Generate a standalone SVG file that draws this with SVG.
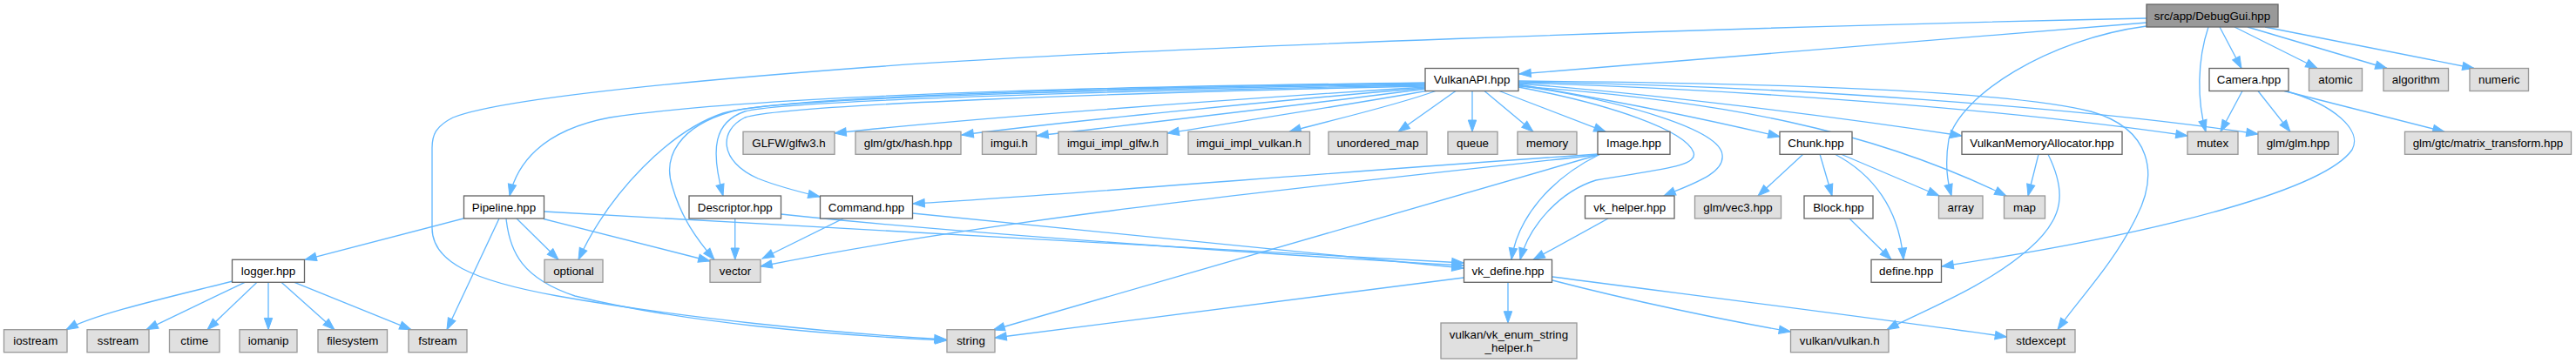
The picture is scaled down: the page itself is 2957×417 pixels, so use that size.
<svg xmlns="http://www.w3.org/2000/svg" width="2957" height="417" viewBox="0 0 2957 417">
<style>
rect.n{fill:#ffffff;stroke:#666666;stroke-width:1.33}
rect.s{fill:#e0e0e0;stroke:#999999;stroke-width:1.33}
rect.r{fill:#999999;stroke:#666666;stroke-width:1.33}
text{font-family:"Liberation Sans",Arial,Helvetica,sans-serif;font-size:13.33px;fill:#000000;text-anchor:middle}
#edges path{fill:none;stroke:#63b8ff;stroke-width:1.33;marker-end:url(#ah)}
</style>
<defs>
<marker id="ah" markerWidth="14" markerHeight="10" refX="13.3" refY="5" orient="auto" markerUnits="userSpaceOnUse" viewBox="0 0 14 10" overflow="visible">
<path d="M0,0.3 L13.3,5 L0,9.7 z" fill="#63b8ff" stroke="#63b8ff" stroke-width="1"/>
</marker>
</defs>
<rect width="2957" height="417" fill="#ffffff"/>
<g id="edges">
<path d="M2464,26 C2200,46 1950,68 1744,85"/>
<path d="M2464,21 C2000,31 1300,55 1000,77 C760,95 570,115 520,135 C500,145 496,155 496,170 L496,262 C496,300 540,322 640,340 C780,365 960,383 1086,390"/>
<path d="M2464,30 C2350,45 2250,110 2237,160 C2232,190 2236,210 2240,225"/>
<path d="M2535,31 C2522,70 2522,115 2532,151.3"/>
<path d="M2548,31 L2573,78.5"/>
<path d="M2565,31 L2660,78.5"/>
<path d="M2580,31 L2740,78.5"/>
<path d="M2600,31 L2840,78.5"/>
<path d="M1636,95 C1400,98 900,105 700,135 C620,150 593,190 585,225"/>
<path d="M1636,96 C1300,100 900,110 830,130 C770,150 700,220 664,298.3"/>
<path d="M1636,97 C1300,102 900,112 840,128 C780,145 760,180 772,215 C782,250 800,275 820,298.3"/>
<path d="M1636,98 C1300,104 900,115 855,128 C820,140 815,170 830,225"/>
<path d="M1636,99 C1300,106 900,120 855,135 C825,150 825,185 870,205 C895,215 920,221 941,226"/>
<path d="M1636,100 C1400,115 1100,137 958,153"/>
<path d="M1636,101 C1450,117 1220,140 1104,155"/>
<path d="M1637,102 C1500,120 1300,143 1190,156"/>
<path d="M1640,104 C1550,120 1420,140 1340,153"/>
<path d="M1648,104.5 C1600,122 1520,140 1480,151.3"/>
<path d="M1671,104.5 L1605,151.3"/>
<path d="M1690,104.5 L1690,151.3"/>
<path d="M1704,104.5 L1760,151.3"/>
<path d="M1721,104.5 L1843,151.3"/>
<path d="M1743,100 C1850,120 1935,150 1944,175 C1950,192 1900,195 1832,207 C1790,220 1755,260 1745,298.3"/>
<path d="M1743,98 C1870,117 1975,150 1977,178 C1980,200 1940,212 1910,225"/>
<path d="M1743,97 C1850,115 1950,135 2043,157"/>
<path d="M1743,96 C1900,108 2100,133 2252,156"/>
<path d="M1743,95 C2000,103 2300,125 2511,156"/>
<path d="M1743,94 C2050,98 2400,125 2592,154"/>
<path d="M1743,99 C1980,116 2150,150 2303,225"/>
<path d="M1743,93 C2000,95 2300,103 2400,128 C2470,148 2478,200 2452,250 C2425,305 2385,345 2362,378.7"/>
<path d="M2574,104.5 L2549,151.3"/>
<path d="M2592,104.5 L2629,151.3"/>
<path d="M2622,104.5 L2806,151.3"/>
<path d="M2622,104 C2680,120 2712,150 2700,172 C2670,215 2500,265 2229,306"/>
<path d="M1834,177 C1500,200 1250,222 1048,234"/>
<path d="M1834,178 C1500,215 1150,250 873,306"/>
<path d="M1836,177.5 L1140,379"/>
<path d="M1836,177.5 C1780,205 1742,250 1735,298.3"/>
<path d="M1846,251 L1760,298.3"/>
<path d="M2070,177 L2018,225"/>
<path d="M2089,177 L2103,225"/>
<path d="M2113,177 L2226,225"/>
<path d="M2106,177 C2150,200 2180,240 2185,298.3"/>
<path d="M2123,251 L2171,298.3"/>
<path d="M2340,177.3 L2328,225"/>
<path d="M2351,177.3 C2372,220 2370,250 2330,285 C2280,330 2200,360 2166,378.7"/>
<path d="M532,251 L350,298.3"/>
<path d="M593,251 L641,298.3"/>
<path d="M624,251.5 L815,300"/>
<path d="M624.5,243 C800,255 1400,285 1680,302"/>
<path d="M581,251 C585,290 600,320 660,340 C780,370 950,385 1087,391"/>
<path d="M573,251 L513,378.7"/>
<path d="M843.75,251 L843.75,298.3"/>
<path d="M896.5,246 C1100,268 1500,295 1680,305"/>
<path d="M968,251 L875,297"/>
<path d="M1047.5,245 C1300,270 1550,295 1680,308"/>
<path d="M267,323 C200,340 110,360 76,378.7"/>
<path d="M281,324.3 L168,378.7"/>
<path d="M295,324.3 L238,378.7"/>
<path d="M308,324.3 L308,378.7"/>
<path d="M323,324.3 L384,378.7"/>
<path d="M338,324.3 L472,378.7"/>
<path d="M1680,319 L1142,388"/>
<path d="M1731,324.3 L1731,371"/>
<path d="M1782,322 C1870,345 1980,368 2055.5,381"/>
<path d="M1782,318 C1950,340 2150,365 2303.5,387"/>
</g>
<g id="node-DebugGui"><rect class="r" x="2464" y="5" width="151" height="26"/><text x="2539.5" y="22.5">src/app/DebugGui.hpp</text></g>
<g id="node-VulkanAPI"><rect class="n" x="1636" y="78.5" width="107" height="26"/><text x="1689.5" y="96">VulkanAPI.hpp</text></g>
<g id="node-Camera"><rect class="n" x="2536" y="78.5" width="91" height="26"/><text x="2581.5" y="96">Camera.hpp</text></g>
<g id="node-atomic"><rect class="s" x="2650.5" y="78.5" width="61" height="26"/><text x="2681" y="96">atomic</text></g>
<g id="node-algorithm"><rect class="s" x="2736" y="78.5" width="74.5" height="26"/><text x="2773.25" y="96">algorithm</text></g>
<g id="node-numeric"><rect class="s" x="2835" y="78.5" width="67.5" height="26"/><text x="2868.75" y="96">numeric</text></g>
<g id="node-glfw3"><rect class="s" x="853" y="151.3" width="105" height="26"/><text x="905.5" y="168.8">GLFW/glfw3.h</text></g>
<g id="node-hash"><rect class="s" x="982" y="151.3" width="121" height="26"/><text x="1042.5" y="168.8">glm/gtx/hash.hpp</text></g>
<g id="node-imgui"><rect class="s" x="1127.5" y="151.3" width="62" height="26"/><text x="1158.5" y="168.8">imgui.h</text></g>
<g id="node-imgui_glfw"><rect class="s" x="1215" y="151.3" width="125" height="26"/><text x="1277.5" y="168.8">imgui_impl_glfw.h</text></g>
<g id="node-imgui_vulkan"><rect class="s" x="1364" y="151.3" width="139.5" height="26"/><text x="1433.75" y="168.8">imgui_impl_vulkan.h</text></g>
<g id="node-unordered_map"><rect class="s" x="1525" y="151.3" width="113" height="26"/><text x="1581.5" y="168.8">unordered_map</text></g>
<g id="node-queue"><rect class="s" x="1662" y="151.3" width="57" height="26"/><text x="1690.5" y="168.8">queue</text></g>
<g id="node-memory"><rect class="s" x="1742" y="151.3" width="68" height="26"/><text x="1776" y="168.8">memory</text></g>
<g id="node-Image"><rect class="n" x="1834" y="151.3" width="83" height="26"/><text x="1875.5" y="168.8">Image.hpp</text></g>
<g id="node-Chunk"><rect class="n" x="2043" y="151.3" width="83" height="26"/><text x="2084.5" y="168.8">Chunk.hpp</text></g>
<g id="node-VMA"><rect class="n" x="2252" y="151.3" width="184" height="26"/><text x="2344" y="168.8">VulkanMemoryAllocator.hpp</text></g>
<g id="node-mutex"><rect class="s" x="2511" y="151.3" width="58" height="26"/><text x="2540" y="168.8">mutex</text></g>
<g id="node-glm"><rect class="s" x="2592" y="151.3" width="92" height="26"/><text x="2638" y="168.8">glm/glm.hpp</text></g>
<g id="node-matrix_transform"><rect class="s" x="2760.5" y="151.3" width="191" height="26"/><text x="2856" y="168.8">glm/gtc/matrix_transform.hpp</text></g>
<g id="node-Pipeline"><rect class="n" x="532.5" y="225" width="92" height="26"/><text x="578.5" y="242.5">Pipeline.hpp</text></g>
<g id="node-Descriptor"><rect class="n" x="791" y="225" width="105.5" height="26"/><text x="843.75" y="242.5">Descriptor.hpp</text></g>
<g id="node-Command"><rect class="n" x="941.5" y="225" width="106" height="26"/><text x="994.5" y="242.5">Command.hpp</text></g>
<g id="node-vk_helper"><rect class="n" x="1819.5" y="225" width="102.5" height="26"/><text x="1870.75" y="242.5">vk_helper.hpp</text></g>
<g id="node-vec3"><rect class="s" x="1945.5" y="225" width="99" height="26"/><text x="1995" y="242.5">glm/vec3.hpp</text></g>
<g id="node-Block"><rect class="n" x="2071" y="225" width="79" height="26"/><text x="2110.5" y="242.5">Block.hpp</text></g>
<g id="node-array"><rect class="s" x="2225.5" y="225" width="50.5" height="26"/><text x="2250.75" y="242.5">array</text></g>
<g id="node-map"><rect class="s" x="2300.5" y="225" width="47" height="26"/><text x="2324" y="242.5">map</text></g>
<g id="node-logger"><rect class="n" x="266.5" y="298.3" width="83" height="26"/><text x="308" y="315.8">logger.hpp</text></g>
<g id="node-optional"><rect class="s" x="625" y="298.3" width="67" height="26"/><text x="658.5" y="315.8">optional</text></g>
<g id="node-vector"><rect class="s" x="815" y="298.3" width="58" height="26"/><text x="844" y="315.8">vector</text></g>
<g id="node-vk_define"><rect class="n" x="1680.5" y="298.3" width="101" height="26"/><text x="1731" y="315.8">vk_define.hpp</text></g>
<g id="node-define"><rect class="n" x="2148" y="298.3" width="80.5" height="26"/><text x="2188.25" y="315.8">define.hpp</text></g>
<g id="node-iostream"><rect class="s" x="4.5" y="378.7" width="72.5" height="26"/><text x="40.75" y="396.2">iostream</text></g>
<g id="node-sstream"><rect class="s" x="100" y="378.7" width="71" height="26"/><text x="135.5" y="396.2">sstream</text></g>
<g id="node-ctime"><rect class="s" x="194.5" y="378.7" width="57.5" height="26"/><text x="223.25" y="396.2">ctime</text></g>
<g id="node-iomanip"><rect class="s" x="275" y="378.7" width="66" height="26"/><text x="308" y="396.2">iomanip</text></g>
<g id="node-filesystem"><rect class="s" x="365" y="378.7" width="79.5" height="26"/><text x="404.75" y="396.2">filesystem</text></g>
<g id="node-fstream"><rect class="s" x="469" y="378.7" width="67" height="26"/><text x="502.5" y="396.2">fstream</text></g>
<g id="node-string"><rect class="s" x="1087" y="378.7" width="55" height="26"/><text x="1114.5" y="396.2">string</text></g>
<g id="node-vk_enum"><rect class="s" x="1654" y="371" width="156" height="41"/><text x="1732" y="389">vulkan/vk_enum_string</text><text x="1732" y="404">_helper.h</text></g>
<g id="node-vulkan"><rect class="s" x="2055.5" y="378.7" width="112.5" height="26"/><text x="2111.75" y="396.2">vulkan/vulkan.h</text></g>
<g id="node-stdexcept"><rect class="s" x="2303.5" y="378.7" width="78.5" height="26"/><text x="2342.75" y="396.2">stdexcept</text></g>
</svg>
